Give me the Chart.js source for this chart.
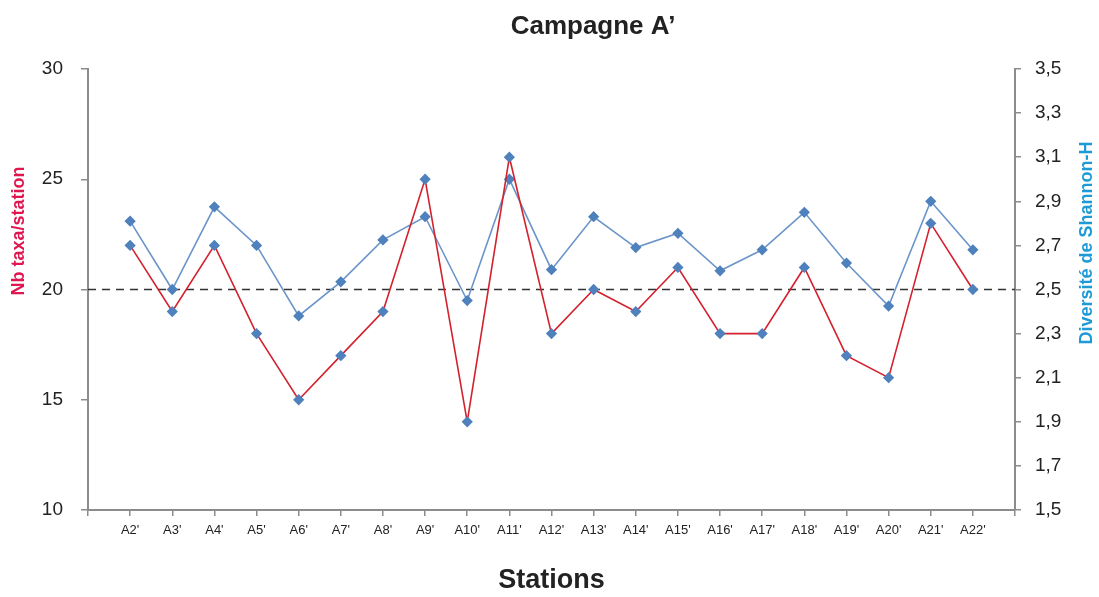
<!DOCTYPE html>
<html>
<head>
<meta charset="utf-8">
<script src="https://cdn.jsdelivr.net/npm/chart.js@4"></script>
<style>
  html, body { margin: 0; padding: 0; background: #fff; }
  #wrap { width: 1099px; height: 597px; position: relative; }
</style>
</head>
<body>
<div id="wrap"><canvas id="chart"></canvas></div>
<script>
// ─── data ────────────────────────────────────────────────────────────────
const stations = ["A2'", "A3'", "A4'", "A5'", "A6'", "A7'", "A8'", "A9'", "A10'", "A11'", "A12'",
                  "A13'", "A14'", "A15'", "A16'", "A17'", "A18'", "A19'", "A20'", "A21'", "A22'"];
const nbTaxa = [22, 19, 22, 18, 15, 17, 19, 25, 14, 26, 18, 20, 19, 21, 18, 18, 21, 17, 16, 23, 20];
const shannon = [2.81, 2.50, 2.875, 2.70, 2.38, 2.535, 2.725, 2.83, 2.45, 3.00, 2.59,
                 2.83, 2.69, 2.755, 2.585, 2.68, 2.85, 2.62, 2.425, 2.90, 2.68];
const threshold = 20;   // dashed reference line (left axis)

// one empty slot on each side, like the original x axis
const labels = [''].concat(stations, ['']);
const pad = arr => [null].concat(arr, [null]);

const FONT = "'Liberation Sans', Arial, sans-serif";
const AXIS = '#8c8c8c';

// titles drawn by hand so they sit where the original has them
const titlesPlugin = {
    id: 'titles',
    beforeDatasetsDraw(chart) {
        const { ctx, chartArea, scales } = chart;
        const y = scales.y.getPixelForValue(threshold);
        ctx.save();
        ctx.strokeStyle = '#333';
        ctx.lineWidth = 1.5;
        ctx.setLineDash([8, 6]);
        ctx.beginPath();
        ctx.moveTo(chartArea.left, y);
        ctx.lineTo(chartArea.right, y);
        ctx.stroke();
        ctx.restore();
    },
    afterDraw(chart) {
        const ctx = chart.ctx;
        ctx.save();
        ctx.textAlign = 'center';
        ctx.textBaseline = 'middle';

        ctx.fillStyle = '#222';
        ctx.font = 'bold 26px ' + FONT;
        ctx.fillText('Campagne A\u2019', 593, 27);

        ctx.font = 'bold 18px ' + FONT;
        ctx.fillStyle = '#e0174f';
        ctx.translate(19, 231);
        ctx.rotate(-Math.PI / 2);
        ctx.fillText('Nb taxa/station', 0, 0);
        ctx.restore();

        ctx.save();
        ctx.textAlign = 'center';
        ctx.textBaseline = 'middle';
        ctx.font = 'bold 18px ' + FONT;
        ctx.fillStyle = '#1e9ad6';
        ctx.translate(1087, 243);
        ctx.rotate(-Math.PI / 2);
        ctx.fillText('Diversité de Shannon-H', 0, 0);
        ctx.restore();
    }
};

new Chart(document.getElementById('chart'), {
    type: 'line',
    data: {
        labels: labels,
        datasets: [
            {
                label: 'Nb taxa/station',
                data: pad(nbTaxa),
                yAxisID: 'y',
                borderColor: '#d3212d',
                borderWidth: 1.6,
                pointStyle: 'rectRot',
                pointRadius: 4.5,
                pointBackgroundColor: '#4f81bd',
                pointBorderColor: '#4f81bd',
                tension: 0
            },
            {
                label: 'Diversité de Shannon-H',
                data: pad(shannon),
                yAxisID: 'y2',
                borderColor: '#6b95c9',
                borderWidth: 1.6,
                pointStyle: 'rectRot',
                pointRadius: 4.5,
                pointBackgroundColor: '#4f81bd',
                pointBorderColor: '#4f81bd',
                tension: 0
            }
        ]
    },
    options: {
        responsive: true,
        maintainAspectRatio: false,
        animation: false,
        layout: { padding: { top: 69, left: 0, right: 0, bottom: 0 } },
        plugins: {
            legend: { display: false },
            tooltip: { enabled: false }
        },
        scales: {
            x: {
                offset: false,
                afterFit: s => { s.height = 87; },
                grid: { drawOnChartArea: false, drawTicks: true, tickLength: 6, color: AXIS, lineWidth: 1.5 },
                border: { display: true, color: AXIS, width: 2 },
                ticks: { color: '#222', font: { family: FONT, size: 13 }, padding: 7, autoSkip: false, maxRotation: 0 },
                title: {
                    display: true,
                    text: 'Stations',
                    color: '#222',
                    font: { family: FONT, size: 27, weight: 'bold' },
                    padding: { top: 0, bottom: 0 }
                }
            },
            y: {
                position: 'left',
                min: 10,
                max: 30,
                afterFit: s => { s.width = 88; },
                grid: { drawOnChartArea: false, drawTicks: true, tickLength: 7, color: AXIS, lineWidth: 1.5 },
                border: { display: true, color: AXIS, width: 2 },
                ticks: { stepSize: 5, color: '#222', font: { family: FONT, size: 19 }, padding: 18 }
            },
            y2: {
                position: 'right',
                min: 1.5,
                max: 3.5,
                afterFit: s => { s.width = 84; },
                grid: { drawOnChartArea: false, drawTicks: true, tickLength: 6, color: AXIS, lineWidth: 1.5 },
                border: { display: true, color: AXIS, width: 2 },
                ticks: {
                    stepSize: 0.2,
                    color: '#222',
                    font: { family: FONT, size: 19 },
                    padding: 14,
                    callback: v => v.toFixed(1).replace('.', ',')
                }
            }
        }
    },
    plugins: [titlesPlugin]
});
</script>
</body>
</html>
